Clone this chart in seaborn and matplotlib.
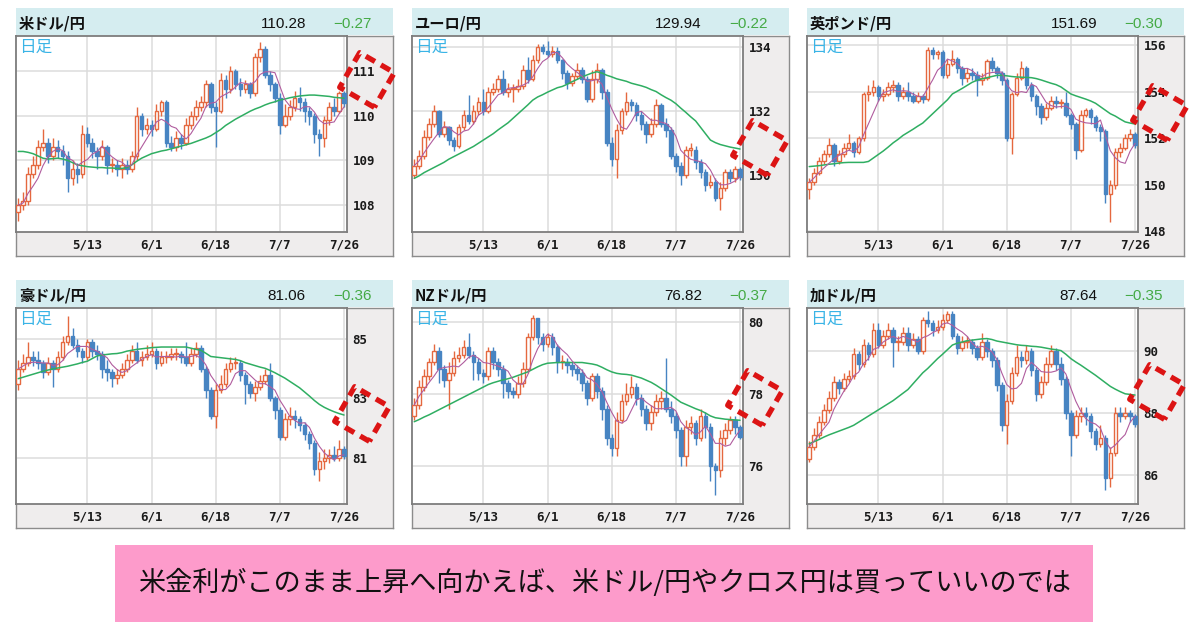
import numpy as np
import pandas as pd
import seaborn as sns
import matplotlib.pyplot as plt
from matplotlib.lines import Line2D
from matplotlib.patches import Rectangle

# 日付ラベル (営業日インデックス上の位置)
dates = ["5/13", "6/1", "6/18", "7/7", "7/26"]
date_pos = [14, 27, 40, 53, 66]

# 米ドル/円
usdjpy_open0 = 107.85
usdjpy_close = [108.00, 108.10, 108.70, 108.90, 109.30, 109.40, 109.10, 109.30, 109.20, 109.10,
                108.60, 108.80, 108.70, 109.60, 109.40, 109.20, 109.10, 109.30, 108.90, 108.90,
                108.80, 108.90, 108.80, 109.10, 110.00, 109.70, 109.80, 109.70, 110.10, 110.30,
                109.40, 109.30, 109.50, 109.40, 109.80, 110.00, 110.20, 110.30, 110.70, 110.20,
                110.10, 110.80, 110.60, 111.00, 110.70, 110.60, 110.70, 110.50, 111.30, 111.50,
                110.90, 110.70, 110.40, 109.80, 110.00, 110.20, 110.40, 110.30, 110.10, 110.00,
                109.60, 109.50, 109.90, 110.20, 110.10, 110.50, 110.28]
usdjpy_high = [108.15, 108.30, 108.85, 109.10, 109.45, 109.70, 109.50, 109.50, 109.45, 109.35,
               109.20, 109.00, 108.95, 109.80, 109.75, 109.50, 109.30, 109.45, 109.35, 109.05,
               109.00, 109.05, 109.00, 109.20, 110.20, 110.05, 109.95, 109.90, 110.25, 110.35,
               110.35, 109.55, 109.65, 109.60, 109.95, 110.10, 110.35, 110.45, 110.80, 110.75,
               110.30, 110.95, 110.90, 111.10, 111.05, 110.85, 110.80, 110.75, 111.40, 111.65,
               111.55, 111.00, 110.75, 110.50, 110.25, 110.35, 110.55, 110.65, 110.40, 110.20,
               110.05, 109.70, 110.00, 110.30, 110.40, 110.55, 110.55]
usdjpy_low = [107.65, 107.90, 108.00, 108.60, 108.80, 109.20, 108.95, 109.00, 109.05, 108.90,
              108.30, 108.45, 108.50, 108.60, 109.30, 109.05, 108.80, 109.00, 108.70, 108.75,
              108.65, 108.60, 108.70, 108.75, 109.00, 109.55, 109.60, 109.55, 109.65, 110.00,
              109.30, 109.20, 109.20, 109.25, 109.35, 109.70, 109.90, 110.10, 110.20, 110.05,
              109.30, 110.05, 110.40, 110.50, 110.60, 110.45, 110.50, 110.40, 110.45, 111.20,
              110.85, 110.55, 110.30, 109.60, 109.75, 109.90, 110.10, 110.10, 109.85, 109.80,
              109.40, 109.10, 109.30, 109.80, 110.00, 110.05, 110.20]
usdjpy_ma25 = [109.20, 109.20, 109.18, 109.15, 109.10, 109.05, 109.03, 109.04, 109.05, 109.03,
               109.00, 108.95, 108.90, 108.88, 108.86, 108.85, 108.84, 108.84, 108.83, 108.83,
               108.82, 108.82, 108.84, 108.90, 108.98, 109.05, 109.10, 109.15, 109.18, 109.21,
               109.23, 109.26, 109.29, 109.32, 109.35, 109.38, 109.42, 109.46, 109.50, 109.55,
               109.62, 109.69, 109.78, 109.85, 109.92, 109.98, 110.04, 110.10, 110.15, 110.19,
               110.24, 110.28, 110.31, 110.35, 110.37, 110.40, 110.42, 110.44, 110.45, 110.46,
               110.46, 110.45, 110.44, 110.43, 110.41, 110.40, 110.39]

# ユーロ/円
eurjpy_open0 = 130.00
eurjpy_close = [130.30, 130.60, 131.20, 131.60, 132.00, 131.30, 131.50, 131.10, 130.90, 131.50,
                131.90, 131.70, 132.00, 132.30, 132.00, 132.60, 132.70, 133.00, 132.60, 132.70,
                132.70, 132.80, 133.30, 133.00, 133.60, 134.00, 133.90, 133.80, 133.90, 133.60,
                133.20, 132.90, 133.10, 133.30, 133.00, 132.40, 133.00, 133.30, 132.60, 131.00,
                130.50, 131.40, 132.00, 132.30, 132.20, 131.90, 131.60, 131.30, 131.60, 132.20,
                131.60, 131.40, 130.60, 130.30, 130.00, 130.80, 130.80, 130.40, 130.10, 129.70,
                129.80, 129.30, 129.60, 130.10, 129.90, 130.20, 129.94]
eurjpy_high = [130.50, 130.80, 131.40, 131.80, 132.20, 132.05, 131.70, 131.55, 131.20, 131.60,
               132.05, 132.50, 132.20, 132.45, 132.70, 132.75, 132.90, 133.15, 133.30, 132.90,
               132.85, 133.00, 133.45, 133.70, 133.75, 134.10, 134.10, 134.20, 134.05, 134.00,
               133.65, 133.30, 133.20, 133.50, 133.40, 133.10, 133.30, 133.50, 133.35, 132.70,
               131.20, 131.60, 132.10, 132.60, 132.40, 132.30, 132.00, 131.70, 131.80, 132.40,
               132.25, 131.80, 131.50, 130.70, 130.40, 130.90, 131.00, 130.90, 130.50, 130.20,
               130.00, 129.90, 129.80, 130.20, 130.20, 130.30, 130.25]
eurjpy_low = [129.90, 130.20, 130.50, 131.10, 131.50, 131.20, 131.20, 130.95, 130.75, 130.85,
              131.40, 131.60, 131.60, 131.90, 131.90, 131.95, 132.50, 132.60, 132.50, 132.45,
              132.30, 132.60, 132.70, 132.90, 132.95, 133.50, 133.80, 133.70, 133.70, 133.50,
              133.00, 132.70, 132.80, 133.00, 132.90, 132.30, 132.30, 132.90, 132.40, 130.90,
              130.30, 129.90, 131.30, 131.90, 132.00, 131.70, 131.40, 131.00, 131.20, 131.50,
              131.50, 131.20, 130.50, 130.10, 129.70, 129.90, 130.60, 130.20, 129.90, 129.50,
              129.60, 129.20, 128.90, 129.50, 129.80, 129.80, 129.85]
eurjpy_ma25 = [129.90, 129.98, 130.08, 130.16, 130.24, 130.32, 130.40, 130.50, 130.58, 130.66,
               130.74, 130.82, 130.90, 131.00, 131.10, 131.20, 131.30, 131.42, 131.53, 131.64,
               131.78, 131.92, 132.06, 132.20, 132.35, 132.45, 132.52, 132.60, 132.67, 132.74,
               132.78, 132.85, 132.93, 133.00, 133.08, 133.14, 133.20, 133.24, 133.20, 133.13,
               133.08, 133.02, 132.98, 132.94, 132.88, 132.84, 132.80, 132.75, 132.68, 132.62,
               132.52, 132.43, 132.35, 132.24, 132.10, 131.97, 131.83, 131.70, 131.50, 131.30,
               131.10, 131.02, 130.96, 130.92, 130.88, 130.85, 130.82]

# 英ポンド/円
gbpjpy_open0 = 149.80
gbpjpy_close = [150.10, 150.50, 151.00, 151.30, 151.70, 151.00, 151.30, 151.60, 151.80, 151.40,
                152.00, 153.90, 154.00, 154.20, 153.80, 153.90, 154.20, 154.30, 153.80, 154.00,
                153.80, 153.60, 153.80, 153.70, 155.80, 155.60, 155.70, 154.70, 155.20, 155.40,
                155.00, 154.60, 154.80, 154.70, 154.50, 154.60, 155.30, 155.00, 154.80, 154.50,
                152.00, 153.90, 154.60, 155.00, 154.30, 153.80, 153.40, 152.90, 153.30, 153.60,
                153.50, 153.50, 153.00, 152.60, 151.50, 153.00, 153.20, 152.90, 152.50, 152.30,
                149.60, 150.00, 151.40, 151.60, 152.00, 152.20, 151.69]
gbpjpy_high = [150.30, 150.70, 151.20, 151.50, 152.00, 151.80, 151.50, 151.80, 152.20, 151.90,
               152.10, 154.00, 154.30, 154.50, 154.30, 154.10, 154.40, 154.50, 154.40, 154.20,
               154.40, 154.00, 154.00, 153.90, 155.90, 155.90, 155.80, 155.80, 155.40, 155.80,
               155.50, 155.10, 155.00, 155.00, 154.90, 154.80, 155.40, 155.50, 155.10, 154.90,
               154.60, 154.00, 154.80, 155.30, 155.10, 154.40, 153.90, 153.50, 153.50, 153.80,
               153.80, 153.70, 154.00, 153.10, 152.70, 153.20, 153.30, 153.30, 153.00, 152.60,
               152.40, 150.20, 151.60, 151.80, 152.20, 152.40, 152.25]
gbpjpy_low = [149.40, 150.00, 150.40, 150.90, 151.20, 150.80, 150.90, 151.20, 151.50, 151.20,
              151.30, 151.90, 153.60, 153.80, 153.60, 153.60, 153.80, 154.00, 153.60, 153.70,
              153.60, 153.50, 153.50, 153.50, 153.60, 155.40, 155.40, 154.60, 154.60, 155.10,
              154.80, 154.30, 154.40, 154.50, 153.80, 154.30, 154.50, 154.90, 154.60, 154.30,
              151.90, 151.30, 153.80, 154.50, 154.10, 153.60, 153.00, 152.60, 152.80, 153.20,
              153.30, 153.30, 152.90, 152.40, 151.10, 151.40, 152.90, 152.60, 152.30, 151.90,
              149.20, 148.40, 149.80, 151.20, 151.50, 151.90, 151.60]
gbpjpy_ma25 = [150.78, 150.80, 150.82, 150.85, 150.88, 150.90, 150.93, 150.95, 150.96, 150.96,
               150.96, 150.96, 151.00, 151.15, 151.30, 151.45, 151.62, 151.80, 151.95, 152.12,
               152.25, 152.38, 152.52, 152.65, 152.85, 153.05, 153.25, 153.45, 153.65, 153.90,
               154.02, 154.14, 154.27, 154.40, 154.49, 154.55, 154.60, 154.65, 154.70, 154.70,
               154.68, 154.65, 154.63, 154.62, 154.61, 154.60, 154.56, 154.50, 154.43, 154.36,
               154.30, 154.20, 154.05, 153.90, 153.82, 153.75, 153.68, 153.60, 153.50, 153.35,
               153.20, 153.05, 152.95, 152.82, 152.70, 152.65, 152.61]

# 豪ドル/円
audjpy_open0 = 83.50
audjpy_close = [84.00, 84.20, 84.40, 84.30, 84.20, 83.90, 84.20, 84.00, 84.40, 84.90,
                85.10, 84.80, 84.60, 84.40, 84.90, 84.60, 84.50, 84.00, 83.90, 83.70,
                83.80, 84.00, 84.30, 84.60, 84.30, 84.40, 84.50, 84.60, 84.20, 84.40,
                84.40, 84.50, 84.50, 84.40, 84.20, 84.50, 84.70, 84.00, 83.30, 82.40,
                83.30, 83.50, 84.00, 84.20, 84.20, 83.80, 83.50, 83.20, 83.40, 83.60,
                83.80, 83.00, 82.60, 81.70, 82.30, 82.40, 82.30, 82.10, 81.80, 81.50,
                80.60, 80.90, 81.00, 81.10, 81.00, 81.30, 81.06]
audjpy_high = [84.30, 84.50, 84.90, 84.60, 84.60, 84.30, 84.40, 84.30, 84.60, 85.10,
               85.80, 85.40, 85.00, 84.70, 85.00, 85.00, 84.80, 84.60, 84.30, 84.00,
               84.00, 84.20, 84.50, 84.80, 84.90, 84.60, 84.80, 84.90, 84.70, 84.60,
               84.60, 84.70, 84.70, 84.60, 84.90, 84.70, 84.90, 84.80, 84.10, 83.40,
               83.50, 83.80, 84.20, 84.40, 84.40, 84.30, 83.90, 83.60, 83.60, 83.80,
               84.00, 84.20, 83.10, 82.70, 82.50, 82.70, 82.60, 82.40, 82.20, 81.90,
               81.60, 81.20, 81.30, 81.30, 81.40, 81.60, 81.40]
audjpy_low = [83.30, 83.90, 84.10, 84.10, 84.00, 83.70, 83.80, 83.40, 83.90, 84.30,
              84.80, 84.70, 84.40, 84.20, 84.30, 84.40, 84.30, 83.70, 83.60, 83.40,
              83.50, 83.70, 83.90, 84.20, 84.20, 84.10, 84.30, 84.40, 84.00, 84.10,
              84.20, 84.30, 84.30, 84.20, 84.10, 84.10, 84.40, 83.90, 83.00, 82.30,
              82.00, 83.20, 83.40, 83.90, 84.00, 83.60, 82.80, 83.00, 82.90, 83.30,
              83.50, 82.90, 82.30, 81.60, 81.60, 82.10, 82.00, 81.90, 81.60, 81.30,
              80.40, 80.20, 80.60, 80.80, 80.90, 80.90, 80.95]
audjpy_ma25 = [83.67, 83.72, 83.77, 83.82, 83.87, 83.92, 83.96, 84.00, 84.03, 84.06,
               84.09, 84.13, 84.17, 84.22, 84.26, 84.35, 84.44, 84.47, 84.49, 84.51,
               84.52, 84.55, 84.60, 84.63, 84.66, 84.68, 84.70, 84.72, 84.73, 84.74,
               84.74, 84.74, 84.74, 84.74, 84.74, 84.70, 84.66, 84.63, 84.53, 84.42,
               84.40, 84.38, 84.36, 84.34, 84.32, 84.28, 84.21, 84.16, 84.11, 84.06,
               84.02, 83.95, 83.87, 83.78, 83.69, 83.58, 83.47, 83.36, 83.22, 83.08,
               82.93, 82.80, 82.70, 82.62, 82.55, 82.49, 82.44]

# NZドル/円
nzdjpy_open0 = 77.40
nzdjpy_close = [77.70, 78.20, 78.50, 78.90, 79.20, 78.70, 78.40, 78.60, 79.00, 79.10,
                79.30, 79.10, 78.90, 78.60, 78.50, 79.20, 78.90, 78.70, 78.30, 78.10,
                78.00, 78.30, 78.70, 79.60, 80.10, 79.60, 79.40, 79.60, 79.30, 78.90,
                78.90, 78.80, 78.70, 78.60, 78.30, 77.90, 78.50, 78.10, 77.60, 76.80,
                76.50, 77.30, 77.80, 78.00, 78.20, 77.90, 77.60, 77.20, 77.50, 77.80,
                77.90, 77.60, 77.40, 77.00, 76.30, 77.10, 77.20, 76.80, 77.40, 77.10,
                76.00, 75.90, 76.80, 77.00, 77.30, 77.10, 76.82]
nzdjpy_high = [77.90, 78.40, 78.70, 79.00, 79.40, 79.30, 78.80, 78.90, 79.20, 79.30,
               79.50, 79.70, 79.20, 79.00, 78.70, 79.30, 79.30, 79.00, 78.80, 78.40,
               78.20, 78.50, 78.90, 79.70, 80.20, 80.10, 79.70, 79.70, 79.70, 79.40,
               79.10, 79.00, 78.90, 78.80, 78.70, 78.40, 78.60, 78.60, 78.20, 77.70,
               76.90, 77.50, 78.00, 78.30, 78.50, 78.30, 78.00, 77.70, 77.70, 78.00,
               78.10, 79.00, 77.80, 77.50, 77.10, 77.30, 77.40, 77.30, 77.60, 77.50,
               77.20, 76.10, 77.00, 77.20, 77.40, 77.40, 77.15]
nzdjpy_low = [77.30, 77.60, 78.10, 78.40, 78.80, 78.30, 78.20, 77.60, 78.50, 78.90,
              79.00, 79.00, 78.40, 78.40, 78.30, 78.40, 78.70, 78.50, 77.90, 77.90,
              77.90, 77.90, 78.20, 78.60, 79.50, 79.40, 79.20, 79.30, 79.10, 78.60,
              78.70, 78.60, 78.50, 78.40, 78.10, 77.70, 77.80, 77.90, 77.30, 76.60,
              76.30, 76.30, 77.20, 77.70, 77.90, 77.70, 77.40, 77.00, 77.00, 77.40,
              77.60, 77.50, 77.20, 76.80, 76.00, 76.00, 76.90, 76.60, 76.70, 76.80,
              75.60, 75.20, 75.70, 76.60, 76.90, 76.90, 76.75]
nzdjpy_ma25 = [77.24, 77.30, 77.37, 77.43, 77.50, 77.57, 77.64, 77.71, 77.78, 77.85,
               77.92, 77.99, 78.06, 78.13, 78.20, 78.27, 78.32, 78.36, 78.40, 78.43,
               78.47, 78.52, 78.57, 78.62, 78.69, 78.76, 78.82, 78.86, 78.87, 78.88,
               78.88, 78.88, 78.88, 78.88, 78.88, 78.86, 78.84, 78.81, 78.75, 78.68,
               78.62, 78.58, 78.56, 78.55, 78.53, 78.49, 78.45, 78.39, 78.33, 78.25,
               78.16, 78.07, 77.98, 77.88, 77.78, 77.72, 77.66, 77.60, 77.55, 77.48,
               77.40, 77.35, 77.33, 77.31, 77.30, 77.29, 77.28]

# 加ドル/円
cadjpy_open0 = 86.50
cadjpy_close = [86.90, 87.30, 87.70, 88.10, 88.50, 89.00, 88.80, 89.10, 89.20, 89.90,
                89.60, 90.20, 89.90, 90.70, 90.20, 90.50, 90.70, 90.30, 90.30, 90.60,
                90.20, 90.40, 90.00, 91.00, 90.90, 90.70, 90.80, 91.00, 91.20, 90.50,
                90.10, 90.30, 90.30, 90.10, 89.80, 90.30, 90.00, 89.70, 88.90, 87.60,
                88.40, 89.30, 89.80, 89.70, 90.00, 89.40, 88.60, 89.00, 89.60, 90.00,
                89.60, 89.10, 88.00, 87.30, 87.90, 88.00, 87.90, 87.40, 87.00, 87.20,
                85.90, 86.70, 88.00, 87.90, 88.00, 87.90, 87.64]
cadjpy_high = [87.10, 87.50, 87.90, 88.30, 88.70, 89.20, 89.10, 89.30, 89.40, 90.10,
               90.00, 90.40, 90.30, 90.90, 90.90, 90.70, 90.90, 90.80, 90.50, 90.80,
               90.80, 90.60, 90.50, 91.10, 91.30, 91.00, 91.00, 91.20, 91.30, 91.30,
               90.60, 90.50, 90.50, 90.40, 90.20, 90.60, 90.40, 90.10, 89.80, 89.00,
               88.60, 89.50, 90.20, 90.00, 90.20, 90.10, 89.50, 89.20, 89.80, 90.20,
               90.10, 89.80, 89.20, 88.10, 88.10, 88.20, 88.20, 88.00, 87.50, 87.60,
               87.30, 86.90, 88.20, 88.20, 88.20, 88.10, 87.95]
cadjpy_low = [86.40, 86.80, 87.20, 87.60, 88.00, 88.40, 88.60, 88.70, 89.00, 89.10,
              89.40, 89.50, 89.70, 89.80, 90.10, 90.10, 90.40, 89.50, 90.00, 90.20,
              90.00, 90.10, 89.90, 89.90, 90.80, 90.50, 90.60, 90.70, 90.90, 90.40,
              89.90, 90.00, 90.10, 89.90, 89.70, 89.70, 89.80, 89.50, 88.70, 87.40,
              87.00, 88.30, 89.20, 89.50, 89.60, 89.20, 88.40, 88.50, 88.90, 89.50,
              89.40, 88.90, 87.80, 86.60, 87.20, 87.70, 87.60, 87.20, 86.80, 86.90,
              85.50, 85.60, 86.60, 87.70, 87.80, 87.70, 87.55]
cadjpy_ma25 = [87.00, 87.07, 87.14, 87.22, 87.29, 87.35, 87.41, 87.47, 87.53, 87.60,
               87.70, 87.80, 87.90, 88.00, 88.10, 88.20, 88.30, 88.40, 88.52, 88.64,
               88.76, 88.94, 89.12, 89.30, 89.44, 89.60, 89.76, 89.90, 90.05, 90.20,
               90.26, 90.30, 90.34, 90.36, 90.38, 90.40, 90.41, 90.38, 90.33, 90.30,
               90.27, 90.24, 90.21, 90.19, 90.18, 90.16, 90.15, 90.13, 90.10, 90.07,
               90.05, 90.02, 89.90, 89.76, 89.65, 89.55, 89.44, 89.33, 89.22, 89.10,
               88.98, 88.86, 88.77, 88.69, 88.62, 88.60, 88.58]

panels = [
    dict(name="米ドル/円", price="110.28", change="−0.27", open0=usdjpy_open0,
         close=usdjpy_close, high=usdjpy_high, low=usdjpy_low, ma25=usdjpy_ma25,
         ylim=(107.40, 111.78), yticks=[108, 109, 110, 111]),
    dict(name="ユーロ/円", price="129.94", change="−0.22", open0=eurjpy_open0,
         close=eurjpy_close, high=eurjpy_high, low=eurjpy_low, ma25=eurjpy_ma25,
         ylim=(128.22, 134.36), yticks=[130, 132, 134]),
    dict(name="英ポンド/円", price="151.69", change="−0.30", open0=gbpjpy_open0,
         close=gbpjpy_close, high=gbpjpy_high, low=gbpjpy_low, ma25=gbpjpy_ma25,
         ylim=(147.97, 156.39), yticks=[148, 150, 152, 154, 156]),
    dict(name="豪ドル/円", price="81.06", change="−0.36", open0=audjpy_open0,
         close=audjpy_close, high=audjpy_high, low=audjpy_low, ma25=audjpy_ma25,
         ylim=(79.43, 86.06), yticks=[81, 83, 85]),
    dict(name="NZドル/円", price="76.82", change="−0.37", open0=nzdjpy_open0,
         close=nzdjpy_close, high=nzdjpy_high, low=nzdjpy_low, ma25=nzdjpy_ma25,
         ylim=(74.96, 80.39), yticks=[76, 78, 80]),
    dict(name="加ドル/円", price="87.64", change="−0.35", open0=cadjpy_open0,
         close=cadjpy_close, high=cadjpy_high, low=cadjpy_low, ma25=cadjpy_ma25,
         ylim=(85.05, 91.40), yticks=[86, 88, 90]),
]

banner = "米金利がこのまま上昇へ向かえば、米ドル/円やクロス円は買っていいのでは"

W, H = 1200, 630


def box(x, y, w, h):
    # ピクセル (左上基準) -> figure 座標
    return [x / W, 1 - (y + h) / H, w / W, h / H]


sns.set_style("white")
plt.rcParams["font.family"] = ["Noto Sans CJK JP", "DejaVu Sans"]

fig = plt.figure(figsize=(12, 6.3), dpi=100)
fig.patch.set_facecolor("white")

lefts = [16, 412, 807]
tops = [36, 308]
icon_centers = [(367, 80), (760, 148), (1160, 113), (362, 414), (755, 398), (1157, 392)]

UP = "#e5683f"
DOWN = "#4784c2"

for k, p in enumerate(panels):
    px, py = lefts[k % 3], tops[k // 3]

    # 灰色の枠
    bg = fig.add_axes(box(px, py, 377, 220))
    bg.set_facecolor("#efeded")
    bg.set_xticks([])
    bg.set_yticks([])
    for s in bg.spines.values():
        s.set_color("#8c8c8c")
        s.set_linewidth(1.0)

    # ヘッダー
    hd = fig.add_axes(box(px, py - 28, 377, 27))
    hd.set_facecolor("#d5edf0")
    hd.set_xticks([])
    hd.set_yticks([])
    for s in hd.spines.values():
        s.set_visible(False)
    hd.text(0.008, 0.42, p["name"], transform=hd.transAxes, fontsize=11,
            fontweight="bold", va="center", color="#111111")
    hd.text(290 / 377, 0.42, p["price"], transform=hd.transAxes, fontsize=11,
            ha="right", va="center", family="Liberation Sans", color="#111111")
    hd.text(356 / 377, 0.42, p["change"], transform=hd.transAxes, fontsize=11,
            ha="right", va="center", family="Liberation Sans", color="#45aa45")

    # チャート本体
    ax = fig.add_axes(box(px, py, 331, 196))
    ax.set_facecolor("white")
    df = pd.DataFrame({"close": p["close"], "high": p["high"], "low": p["low"], "ma25": p["ma25"]})
    df["idx"] = np.arange(len(df))
    df["open"] = df["close"].shift(1).fillna(p["open0"])
    df["ma5"] = df["close"].rolling(5, min_periods=1).mean()
    up = df["close"] >= df["open"]
    edge = np.where(up, UP, DOWN)
    face = np.where(up, "white", DOWN)
    min_h = (p["ylim"][1] - p["ylim"][0]) * 0.006

    ax.vlines(df["idx"], df["low"], df["high"], colors=edge, linewidth=1.0, zorder=2)
    ax.bar(df["idx"], (df["close"] - df["open"]).abs().clip(lower=min_h),
           bottom=df[["open", "close"]].min(axis=1), width=0.72,
           color=face, edgecolor=edge, linewidth=1.0, zorder=3)
    sns.lineplot(x=df["idx"], y=df["ma25"], ax=ax, color="#2fae62", linewidth=1.1, zorder=4)
    sns.lineplot(x=df["idx"], y=df["ma5"], ax=ax, color="#b05c9e", linewidth=0.8, zorder=5)

    ax.set_xlim(-0.45, 66.6)
    ax.set_ylim(p["ylim"])
    ax.set_xticks(date_pos, dates)
    ax.set_yticks(p["yticks"], [str(t) for t in p["yticks"]])
    ax.yaxis.tick_right()
    ax.grid(True, color="#dcdcdc", linewidth=1.1)
    ax.set_axisbelow(True)
    ax.tick_params(axis="both", length=0, labelsize=9, colors="#1a1a1a")
    ax.tick_params(axis="x", pad=5)
    ax.tick_params(axis="y", pad=4)
    for lab in ax.get_xticklabels() + ax.get_yticklabels():
        lab.set_family("DejaVu Sans Mono")
        lab.set_fontweight("bold")
    ax.set_xlabel("")
    ax.set_ylabel("")
    for s in ax.spines.values():
        s.set_color("#7d7d7d")
        s.set_linewidth(1.3)
    ax.text(0.008, 0.985, "日足", transform=ax.transAxes, va="top", ha="left",
            fontsize=12, color="#3ab4e6", zorder=6)

    # 赤い点線マーク
    cx, cy = icon_centers[k]
    ang = np.deg2rad(30 + np.array([45, 135, 225, 315, 405]))
    r = 20 * np.sqrt(2)
    xs = (cx + r * np.cos(ang)) / W
    ys = 1 - (cy + r * np.sin(ang)) / H
    fig.add_artist(Line2D(xs, ys, transform=fig.transFigure, color="#dc1414",
                          linewidth=3.8, linestyle=(0, (2.0, 1.3)),
                          solid_capstyle="butt", zorder=10))

# 下部のピンク帯
fig.add_artist(Rectangle((115 / W, 1 - 622 / H), (1093 - 115) / W, 77 / H,
                         transform=fig.transFigure, facecolor="#fd9bcb",
                         edgecolor="none", zorder=1))
fig.text(604 / W, 1 - 583 / H, banner, ha="center", va="center",
         fontsize=19.5, color="#111111", zorder=2)

fig.savefig("out.png", dpi=100)
